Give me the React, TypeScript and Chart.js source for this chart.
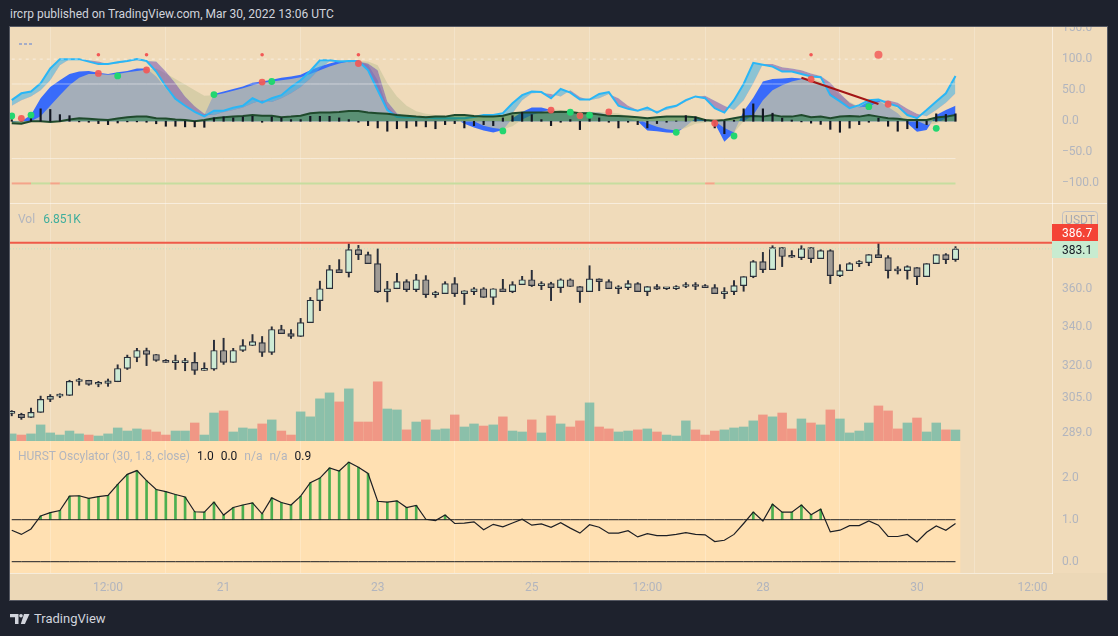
import React, { useEffect, useRef } from "react";
import { Chart, registerables } from "chart.js";

Chart.register(...registerables);

// ---------- time axis ----------
const TIME_TICK_POS = [10, 22, 38, 54, 66, 78, 94, 106];
const TIME_TICK_LABELS = ["12:00", "21", "23", "25", "12:00", "28", "30", "12:00"];

// ---------- price (3h candles) ----------
const OPEN = [297.8, 297.4, 296.0, 298.3, 304.3, 305.8, 306.1, 312.7, 313.3, 311.4, 311.8, 312.6, 319.0, 324.4, 327.9, 325.9, 323.0, 321.9, 321.9, 322.0, 318.1, 318.7, 327.9, 322.0, 327.9, 330.4, 331.9, 326.9, 338.6, 336.5, 335.0, 342.2, 353.9, 360.4, 371.1, 369.4, 382.6, 379.7, 374.5, 358.8, 360.4, 364.3, 359.9, 365.4, 357.2, 357.7, 363.2, 357.7, 358.8, 360.4, 355.6, 360.4, 358.8, 362.7, 365.4, 362.1, 363.2, 361.0, 365.4, 361.6, 358.8, 365.9, 364.3, 360.4, 361.0, 363.2, 358.8, 361.6, 360.4, 360.4, 361.6, 362.7, 361.6, 361.0, 357.7, 358.8, 362.1, 367.1, 375.7, 371.1, 383.8, 378.6, 378.0, 383.8, 377.4, 382.0, 367.7, 370.5, 374.5, 375.1, 379.7, 378.0, 370.6, 370.5, 372.2, 367.1, 374.5, 379.7, 376.8];
const HIGH = [299.1, 297.9, 300.2, 305.8, 306.5, 306.9, 313.3, 314.2, 313.3, 312.8, 313.9, 320.8, 325.6, 329.0, 329.1, 325.9, 323.4, 325.6, 324.0, 326.9, 321.8, 333.1, 334.1, 329.0, 333.4, 336.0, 335.0, 340.0, 340.8, 338.6, 344.4, 355.6, 364.6, 373.5, 376.8, 386.1, 385.1, 381.2, 383.0, 364.5, 369.0, 365.4, 368.4, 367.7, 359.0, 364.3, 366.6, 359.3, 361.0, 361.0, 360.4, 365.6, 364.3, 367.3, 370.7, 364.3, 364.0, 365.9, 365.9, 361.6, 373.3, 365.9, 365.4, 362.1, 364.9, 363.8, 361.6, 362.7, 360.8, 362.1, 363.8, 363.8, 362.7, 362.7, 361.0, 364.9, 367.1, 376.3, 381.0, 384.9, 383.8, 382.0, 384.9, 383.8, 382.6, 382.6, 373.9, 375.1, 376.3, 379.7, 386.3, 379.1, 372.8, 373.3, 372.2, 374.5, 379.7, 380.3, 384.4];
const LOW = [296.7, 295.1, 296.0, 298.3, 303.2, 305.1, 306.1, 310.9, 310.9, 310.2, 310.4, 312.6, 318.5, 322.3, 320.4, 322.5, 322.0, 318.5, 317.9, 316.1, 318.1, 318.1, 321.0, 322.0, 327.4, 330.4, 324.9, 325.9, 336.5, 334.0, 335.0, 342.2, 348.5, 360.4, 369.4, 366.9, 376.8, 374.5, 358.3, 353.2, 360.4, 358.8, 358.8, 355.6, 355.6, 357.7, 356.1, 351.8, 357.2, 355.6, 351.8, 358.8, 358.2, 362.7, 361.6, 359.9, 353.9, 358.3, 361.6, 352.9, 358.8, 359.3, 360.4, 357.7, 359.9, 358.8, 356.6, 359.9, 359.9, 359.9, 361.0, 359.9, 361.0, 357.7, 355.0, 357.2, 359.0, 366.5, 369.4, 371.1, 372.8, 378.0, 376.8, 375.1, 377.4, 363.2, 367.1, 370.5, 372.8, 373.3, 378.0, 366.3, 368.6, 365.7, 362.7, 367.1, 374.5, 374.5, 375.8];
const CLOSE = [298.0, 295.9, 298.3, 304.3, 305.7, 306.2, 312.8, 312.9, 311.3, 311.9, 313.0, 319.0, 324.6, 327.9, 325.9, 323.0, 322.0, 322.1, 322.1, 318.1, 319.0, 327.9, 322.0, 327.9, 330.4, 332.4, 326.9, 338.6, 336.5, 335.0, 342.2, 354.1, 360.4, 371.1, 369.4, 382.6, 379.7, 374.5, 358.8, 360.4, 364.3, 359.9, 365.4, 357.2, 357.4, 363.2, 357.7, 359.3, 360.4, 355.6, 360.4, 358.8, 362.7, 365.4, 362.1, 363.2, 361.0, 365.4, 361.6, 358.8, 365.9, 364.3, 360.4, 360.6, 363.2, 358.8, 361.6, 360.2, 360.8, 361.6, 362.7, 361.6, 361.0, 357.7, 358.8, 362.1, 367.1, 375.7, 371.1, 383.8, 378.6, 378.2, 383.2, 377.4, 382.0, 367.7, 370.5, 374.5, 375.0, 379.7, 378.0, 370.5, 370.4, 372.8, 367.1, 374.5, 379.7, 376.8, 383.1];
// volume in thousands
const VOLUME = [4.4, 3.7, 4.4, 10.0, 5.0, 3.7, 6.2, 4.4, 3.7, 3.1, 4.4, 8.1, 6.2, 7.5, 6.9, 5.6, 3.7, 6.2, 6.2, 11.2, 3.7, 17.4, 18.7, 5.6, 8.1, 7.5, 10.6, 13.1, 6.2, 3.7, 18.1, 15.0, 26.2, 29.9, 24.3, 32.4, 11.8, 11.8, 36.8, 19.9, 19.3, 6.9, 11.8, 13.1, 6.9, 7.5, 16.2, 8.7, 10.6, 9.3, 10.0, 15.0, 6.2, 5.6, 13.1, 5.0, 15.6, 10.6, 8.7, 12.5, 23.7, 8.7, 7.5, 5.6, 6.2, 6.9, 7.5, 5.6, 3.7, 3.1, 12.5, 6.9, 3.7, 6.2, 6.9, 8.1, 8.7, 12.5, 16.2, 15.0, 17.4, 7.5, 13.7, 11.2, 10.0, 19.3, 13.7, 5.0, 6.2, 11.2, 21.8, 18.7, 7.5, 11.2, 14.3, 5.6, 11.2, 6.9, 6.851];
const PRICE_TICKS = [289, 305, 320, 340, 360, 380, 400];
const RESIST_LEVEL = 386.7;
const LAST_PRICE = 383.1;
const VOL_LABEL = "6.851K";

// ---------- top oscillator ----------
const OSC_FAST = [34, 45, 48, 61, 85, 100, 100, 100, 96, 92, 92, 95, 97, 100, 97, 80, 56, 36, 25, 15, 8, 17, 17, 22, 25, 37, 30, 37, 42, 55, 66, 81, 98, 98, 96, 97, 97, 82, 50, 18, 7, 6, 7, 6, 5, 5, 5, 5, 7, 10, 10, 13, 29, 42, 48, 47, 37, 52, 46, 35, 35, 44, 47, 25, 20, 17, 22, 14, 22, 25, 34, 40, 37, 21, 14, 34, 60, 94, 91, 88, 80, 80, 76, 72, 71, 42, 32, 21, 26, 34, 35, 29, 24, 10, 5, 18, 32, 45, 73];
const OSC_FAST_SIGNAL = [25, 34, 40, 50, 66, 90, 100, 100, 98, 96, 92, 93, 96, 98, 97, 96, 80, 61, 40, 24, 12, 10, 15, 18, 22, 29, 34, 31, 37, 45, 55, 69, 85, 96, 98, 95, 96, 93, 82, 32, 13, 7, 6, 7, 6, 6, 5, 5, 6, 8, 10, 10, 13, 34, 45, 46, 44, 40, 50, 39, 34, 37, 44, 37, 25, 18, 17, 17, 18, 23, 32, 39, 41, 33, 25, 18, 34, 61, 92, 92, 87, 85, 82, 77, 73, 62, 45, 30, 22, 25, 32, 34, 30, 20, 12, 8, 18, 30, 45];
const OSC_SLOW = [-1, 0, 10, 37, 55, 66, 76, 80, 81, 78, 76, 79, 81, 85, 85, 72, 53, 34, 25, 15, 10, 44, 48, 52, 56, 62, 64, 67, 70, 72, 75, 82, 88, 93, 97, 97, 96, 91, 66, 23, 8, 6, 7, 5, 5, 6, 5, -4, -10, -15, -18, -14, 5, 15, 22, 22, 18, 15, 15, 15, 15, 14, 10, 8, 5, 0, -15, -16, -18, -19, -8, 5, 2, -3, -33, -18, 16, 38, 64, 68, 69, 70, 69, 66, 61, 45, 34, 23, 23, 32, 34, 23, 13, -3, -17, -14, 10, 18, 25];
const OSC_SLOW_SIGNAL = [0, 0, 0, 8, 25, 42, 58, 70, 76, 76, 75, 76, 79, 81, 83, 85, 77, 68, 59, 50, 41, 42, 45, 49, 53, 58, 62, 64, 66, 68, 71, 76, 82, 88, 93, 96, 97, 96, 90, 61, 40, 25, 16, 12, 10, 8, 7, 5, 0, -7, -11, -13, -8, 3, 10, 15, 19, 18, 16, 15, 15, 15, 14, 13, 8, 3, -3, -9, -13, -15, -11, -4, -2, 0, -11, -18, 0, 10, 34, 50, 58, 64, 67.6, 69, 64, 55.7, 42, 31.6, 23.5, 23.5, 31.6, 31.6, 21, 10, 1, -6, -3.5, 5, 10];
const MONEY_FLOW = [-3, -4, 0, 0, -1, 0, 3, 5, 4, 3, 2, 4.5, 6.5, 7.5, 7.5, 5, 4.5, 3, 2, 0, 2, 5, 6.5, 7.5, 8.5, 10, 9, 9, 6.5, 7.5, 9, 13, 14, 14, 15, 16.6, 16.6, 14, 13, 12, 10, 9, 7.5, 6.5, 7.5, 7.5, 10, 10, 8.5, 7.5, 7.5, 9, 13, 14, 14, 14, 14.5, 15.5, 15, 13, 13, 11, 9, 8.5, 7.5, 6.5, 5, 6.5, 7.5, 7.5, 7.5, 6.5, 2, 1, 2, 5, 7.5, 8.5, 7.5, 10, 7.5, 7.5, 10, 6.5, 7.5, 5, 7.5, 8.5, 7.5, 10, 7.5, 5, 4, 2, 2, 2, 6, 7.5, 10];
const OSC_HIST = [2.7, 0, 5.4, 20, 19, 10.7, 9, -1, -1.6, -3.7, -5.4, -2.7, -1, -1, -1.6, -4, -8, -8, -9, -9, -9.7, 5.4, 7, 5.4, 7, 8, -1.6, 7, 5.4, 2.7, 2.7, 8, 8, 8, 5.4, 2.7, -1.6, -7, -10.7, -16, -12, -10.7, -8, -9, -12, -5.4, -3.7, -10.7, -7, -5.4, -7, 5.4, 9, 14.5, 10.7, 2.7, -7, -1.6, 2.7, -13.4, 5.4, 5.4, -1.6, -10.7, -1.6, -5.4, -10.7, -3.7, -1.6, 0.5, 9, 7, 2.7, -10.7, -20, 1.6, 20, 28, 20, 13, 5, 2, -1, -3, -5, -13, -17.7, -11, -5.4, -1.6, 5, -8, -16, -12, -10.7, -5.4, 12, 11, 12];
const OSC_TICKS = [150, 100, 50, 0, -50, -100];
const OSC_DOTTED_LEVEL = 100;
const OSC_SOFT_LEVELS = [60, -60];
const OSC_FLOOR_LEVEL = -100;
const LEVEL_ALERT_SEGMENTS = [0, 1, 4, 72];
const GREEN_DOT_IDX = [0, 2, 11, 21, 27, 51, 58, 59, 60, 69, 75, 89, 96];
const GREEN_DOT_VAL = [8.5, 10, 73, 43, 64, -15.6, 14.5, 9, 9.7, -17.7, -23.7, 23.5, -11.3];
const RED_DOT_IDX = [1, 9, 14, 26, 36, 56, 59, 62, 73, 83, 91];
const RED_DOT_VAL = [4.8, 77, 82.5, 63, 93, 18, 9, 15, -3.2, 67.6, 27.4];
const SMALL_RED_IDX = [9, 14, 26, 36, 83];
const SMALL_RED_VAL = [107, 107, 107, 107, 107];
const BIG_RED_IDX = [90];
const BIG_RED_VAL = [107];
const DIVERGENCE_IDX = [82, 90];
const DIVERGENCE_VAL = [70, 27.8];

// ---------- Hurst oscillator ----------
const HURST = [0.75, 0.65, 0.78, 1.09, 1.17, 1.22, 1.56, 1.57, 1.51, 1.55, 1.58, 1.84, 2.08, 2.17, 1.93, 1.72, 1.67, 1.60, 1.54, 1.19, 1.18, 1.42, 1.11, 1.29, 1.35, 1.40, 1.14, 1.52, 1.41, 1.35, 1.56, 1.88, 1.99, 2.23, 2.16, 2.37, 2.25, 2.10, 1.44, 1.42, 1.45, 1.29, 1.34, 1.01, 0.98, 1.11, 0.91, 0.92, 0.95, 0.76, 0.89, 0.83, 0.92, 1.01, 0.87, 0.90, 0.82, 0.93, 0.80, 0.68, 0.88, 0.82, 0.68, 0.68, 0.74, 0.59, 0.67, 0.62, 0.62, 0.65, 0.69, 0.65, 0.64, 0.48, 0.51, 0.65, 0.91, 1.18, 0.97, 1.37, 1.18, 1.18, 1.35, 1.12, 1.25, 0.71, 0.75, 0.86, 0.86, 0.97, 0.87, 0.60, 0.60, 0.65, 0.47, 0.70, 0.85, 0.75, 0.91];
const HURST_TICKS = [0, 1, 2];
const HURST_LEVELS = [1, 0];

// ---------- look ----------
const FONT = "Roboto, 'DejaVu Sans', sans-serif";
const AXIS_TEXT = "#b2b5be";
const PANE_BG = "#f0dbba";
const HURST_BG = "#ffe0b2";
const TIME_AXIS_BG = "#ecd8b7";
const GRID = "rgba(255,255,255,0.22)";
const SEP = "rgba(255,255,255,0.5)";
const CANDLE_EDGE = "#2a2e39";
const UP_FILL = "#cdebd5";
const DOWN_FILL = "#a09b95";
const X_MIN = -0.18;
const X_MAX = 108.02;
const AXIS_W = 55;
const PANE_W = 1097;
const TOP_H = 176;
const MAIN_H = 238;
const HURST_H = 159;
const TIME_H = 27;

Chart.defaults.font.family = FONT;

const pts = (arr: number[]) => arr.map((v, i) => ({ x: i, y: v }));
const pick = (idx: number[], val: number[]) => idx.map((x, k) => ({ x, y: val[k] }));
const flat = (level: number, n: number) => Array.from({ length: n }, (_, i) => ({ x: i, y: level }));
const fmtSigned = (v: number) => (v < 0 ? "\u2212" + Math.abs(v).toFixed(1) : v.toFixed(1));

function zeroPad(s: any) {
  s.paddingTop = 0;
  s.paddingBottom = 0;
  s.paddingLeft = 0;
  s.paddingRight = 0;
}

function timeScale(showLabels: boolean): any {
  return {
    type: "linear",
    min: X_MIN,
    max: X_MAX,
    offset: false,
    afterBuildTicks: (s: any) => {
      s.ticks = TIME_TICK_POS.map((v) => ({ value: v }));
    },
    afterFit: (s: any) => {
      s.height = showLabels ? TIME_H : 0;
      zeroPad(s);
    },
    grid: { color: GRID, drawTicks: false },
    border: { display: showLabels, color: SEP },
    ticks: {
      display: showLabels,
      autoSkip: false,
      maxRotation: 0,
      padding: 8,
      color: AXIS_TEXT,
      font: { size: 12, family: FONT },
      callback: (v: number) => {
        const k = TIME_TICK_POS.indexOf(v);
        return k >= 0 ? TIME_TICK_LABELS[k] : "";
      },
    },
  };
}

function rightScale(extra: any, tickVals: number[], fmt: (v: number) => string): any {
  return {
    position: "right",
    afterFit: (s: any) => {
      s.width = AXIS_W;
      zeroPad(s);
    },
    afterBuildTicks: (s: any) => {
      s.ticks = tickVals.map((v) => ({ value: v }));
    },
    grid: { display: false, drawTicks: false },
    border: { display: true, color: SEP },
    ticks: {
      padding: 10,
      autoSkip: false,
      color: AXIS_TEXT,
      font: { size: 12, family: FONT },
      callback: (v: number) => fmt(v),
    },
    ...extra,
  };
}

const bgPlugin = {
  id: "paneBg",
  beforeDraw(chart: any, _a: any, opts: any) {
    const { ctx, width, height, chartArea } = chart;
    ctx.save();
    ctx.fillStyle = PANE_BG;
    ctx.fillRect(0, 0, width, height);
    if (opts && opts.hurst) {
      ctx.fillStyle = TIME_AXIS_BG;
      ctx.fillRect(0, chartArea.bottom, width, height - chartArea.bottom);
      const right = chart.scales.x.getPixelForValue(HURST.length - 0.5);
      ctx.fillStyle = HURST_BG;
      ctx.fillRect(chartArea.left, chartArea.top, right - chartArea.left, chartArea.bottom - chartArea.top);
    }
    ctx.restore();
  },
};

const priceLabelPlugin = {
  id: "priceLabels",
  afterDraw(chart: any) {
    const { ctx, chartArea, scales } = chart;
    const left = chartArea.right;
    const w = 46;
    const h = 17;
    const gTop = Math.round(scales.y.getPixelForValue(LAST_PRICE) - h / 2) + 1;
    const rTop = gTop - h;
    const uTop = rTop - 13;
    ctx.save();
    ctx.font = "12px " + FONT;
    ctx.textBaseline = "middle";
    ctx.fillStyle = PANE_BG;
    ctx.strokeStyle = "rgba(185,187,196,0.9)";
    ctx.lineWidth = 1;
    ctx.beginPath();
    ctx.roundRect(left + 10.5, uTop + 0.5, 35, 17, 3);
    ctx.fill();
    ctx.stroke();
    ctx.fillStyle = "#a6a9b2";
    ctx.textAlign = "center";
    ctx.fillText("USDT", left + 28, uTop + 9.5);
    ctx.textAlign = "left";
    ctx.fillStyle = "#f44336";
    ctx.fillRect(left, rTop, w, h);
    ctx.fillStyle = "#ffffff";
    ctx.fillText(RESIST_LEVEL.toFixed(1), left + 10, rTop + h / 2 + 1);
    ctx.fillStyle = "#c8ebd0";
    ctx.fillRect(left, gTop, w, h);
    ctx.fillStyle = "#131722";
    ctx.fillText(LAST_PRICE.toFixed(1), left + 10, gTop + h / 2 + 1);
    ctx.restore();
  },
};

const BASE: any = {
  responsive: false,
  animation: false,
  events: [],
  layout: { padding: 0, autoPadding: false },
};

function topConfig(): any {
  const n = OSC_FAST.length;
  const line = (extra: any) => ({ type: "line", pointRadius: 0, tension: 0, borderWidth: 0, fill: false, ...extra });
  const dots = (data: any[], color: string, r: number, order: number) => ({
    type: "line",
    data,
    showLine: false,
    pointRadius: r,
    pointBackgroundColor: color,
    pointBorderWidth: 0,
    order,
  });
  return {
    type: "line",
    data: {
      datasets: [
        line({ data: pts(OSC_SLOW), fill: "origin", backgroundColor: "rgba(41,98,255,0.92)", order: 20 }),
        line({ data: pts(OSC_SLOW_SIGNAL), fill: "origin", backgroundColor: "rgba(205,199,160,0.72)", order: 19 }),
        line({ data: pts(OSC_FAST_SIGNAL), order: 18 }),
        line({
          data: pts(OSC_FAST),
          fill: { target: 2, above: "rgba(58,175,232,0.55)", below: "rgba(110,70,175,0.5)" },
          borderColor: "#29b6f6",
          borderWidth: 2,
          order: 17,
        }),
        line({ data: pts(MONEY_FLOW), fill: "origin", backgroundColor: "rgba(30,120,60,0.55)", borderColor: "#1f4a2c", borderWidth: 2, order: 16 }),
        {
          type: "bar",
          data: OSC_HIST.map((v, i) => ({ x: i, y: [0, v] })),
          backgroundColor: "#131722",
          barThickness: 1.5,
          grouped: false,
          order: 15,
        },
        line({ data: flat(OSC_DOTTED_LEVEL, n), borderColor: "rgba(255,255,255,0.55)", borderWidth: 1, borderDash: [3, 4], order: 14 }),
        ...OSC_SOFT_LEVELS.map((l) => line({ data: flat(l, n), borderColor: "rgba(255,255,255,0.45)", borderWidth: 1, order: 14 })),
        line({
          data: flat(OSC_FLOOR_LEVEL, n),
          borderColor: "#c6dd9f",
          borderWidth: 2,
          segment: {
            borderColor: (c: any) => (LEVEL_ALERT_SEGMENTS.includes(c.p0DataIndex) ? "#f4a48a" : "#c6dd9f"),
          },
          order: 14,
        }),
        line({ data: pick(DIVERGENCE_IDX, DIVERGENCE_VAL), borderColor: "#a31515", borderWidth: 2, order: 5 }),
        dots(pick(GREEN_DOT_IDX, GREEN_DOT_VAL), "#22d670", 3.4, 4),
        dots(pick(RED_DOT_IDX, RED_DOT_VAL), "rgba(242,88,86,0.92)", 3.4, 3),
        dots(pick(SMALL_RED_IDX, SMALL_RED_VAL), "#f25856", 1.8, 2),
        dots(pick(BIG_RED_IDX, BIG_RED_VAL), "rgba(242,100,96,0.9)", 4, 2),
      ],
    },
    options: {
      ...BASE,
      plugins: { legend: { display: false }, tooltip: { enabled: false }, paneBg: {} },
      scales: {
        x: timeScale(false),
        y: rightScale({ type: "linear", min: -131.5, max: 151.7 }, OSC_TICKS, fmtSigned),
      },
    },
    plugins: [bgPlugin],
  };
}

function mainConfig(): any {
  const up = CLOSE.map((c, i) => c >= OPEN[i]);
  return {
    type: "bar",
    data: {
      datasets: [
        {
          type: "line",
          data: [
            { x: X_MIN, y: RESIST_LEVEL },
            { x: X_MAX, y: RESIST_LEVEL },
          ],
          borderColor: "#ef5a48",
          borderWidth: 2,
          pointRadius: 0,
          order: 0,
        },
        {
          type: "line",
          data: [
            { x: X_MIN, y: LAST_PRICE },
            { x: X_MAX, y: LAST_PRICE },
          ],
          borderColor: "rgba(185,228,196,0.95)",
          borderWidth: 1,
          borderDash: [1, 2],
          pointRadius: 0,
          order: 0.5,
        },
        {
          type: "bar",
          data: OPEN.map((o, i) => ({ x: i, y: [o, CLOSE[i]] })),
          backgroundColor: up.map((u) => (u ? UP_FILL : DOWN_FILL)),
          borderColor: CANDLE_EDGE,
          borderWidth: 1.2,
          borderSkipped: false,
          barThickness: 6.5,
          minBarLength: 2,
          grouped: false,
          order: 1,
        },
        {
          type: "bar",
          data: LOW.map((l, i) => ({ x: i, y: [l, HIGH[i]] })),
          backgroundColor: CANDLE_EDGE,
          barThickness: 1.3,
          grouped: false,
          order: 2,
        },
        {
          type: "bar",
          yAxisID: "yv",
          data: VOLUME.map((v, i) => ({ x: i, y: v })),
          backgroundColor: up.map((u) => (u ? "rgba(38,166,154,0.5)" : "rgba(239,83,80,0.5)")),
          barThickness: 8.8,
          grouped: false,
          order: 5,
        },
      ],
    },
    options: {
      ...BASE,
      plugins: { legend: { display: false }, tooltip: { enabled: false }, paneBg: {} },
      scales: {
        x: timeScale(false),
        y: rightScale({ type: "logarithmic", min: 285.5, max: 410.9 }, PRICE_TICKS, (v) => v.toFixed(1)),
        yv: { type: "linear", display: false, min: 0, max: 148 },
      },
    },
    plugins: [bgPlugin, priceLabelPlugin],
  };
}

function hurstConfig(): any {
  const n = HURST.length;
  return {
    type: "line",
    data: {
      datasets: [
        { type: "line", data: pts(HURST), borderColor: "#1d1f24", borderWidth: 1.2, pointRadius: 0, tension: 0, order: 1 },
        {
          type: "bar",
          data: HURST.map((v, i) => (v > HURST_LEVELS[0] ? { x: i, y: [HURST_LEVELS[0], v] } : null)).filter(Boolean),
          backgroundColor: "#4caf50",
          barThickness: 2,
          grouped: false,
          order: 3,
        },
        ...HURST_LEVELS.map((l) => ({
          type: "line",
          data: flat(l, n),
          borderColor: "#1d1f24",
          borderWidth: 1,
          pointRadius: 0,
          order: 2,
        })),
      ],
    },
    options: {
      ...BASE,
      plugins: { legend: { display: false }, tooltip: { enabled: false }, paneBg: { hurst: true } },
      scales: {
        x: timeScale(true),
        y: rightScale({ type: "linear", min: -0.269, max: 2.874 }, HURST_TICKS, (v) => v.toFixed(1)),
      },
    },
    plugins: [bgPlugin],
  };
}

export default function App() {
  const topRef = useRef<HTMLCanvasElement>(null);
  const mainRef = useRef<HTMLCanvasElement>(null);
  const hurstRef = useRef<HTMLCanvasElement>(null);

  useEffect(() => {
    const charts: any[] = [];
    if (topRef.current) charts.push(new Chart(topRef.current, topConfig()));
    if (mainRef.current) charts.push(new Chart(mainRef.current, mainConfig()));
    if (hurstRef.current) charts.push(new Chart(hurstRef.current, hurstConfig()));
    return () => charts.forEach((c) => c.destroy());
  }, []);

  const cv = (top: number, h: number): React.CSSProperties => ({
    position: "absolute",
    left: 0,
    top,
    width: PANE_W,
    height: h,
    display: "block",
  });
  const grey = "#b2b5be";
  const dark = "#131722";

  return (
    <div
      style={{
        position: "fixed",
        left: 0,
        top: 0,
        width: 1118,
        height: 636,
        background: "#1e222d",
        overflow: "hidden",
        fontFamily: FONT,
      }}
    >
      <div style={{ position: "absolute", left: 10, top: 6, fontSize: 12, lineHeight: "16px", color: "#d1d4dc", whiteSpace: "nowrap" }}>
        ircrp published on TradingView.com, Mar 30, 2022 13:06 UTC
      </div>
      <div
        style={{
          position: "absolute",
          left: 9,
          top: 26,
          width: PANE_W,
          height: TOP_H + MAIN_H + HURST_H,
          border: "1px solid #555862",
          background: PANE_BG,
        }}
      >
        <canvas ref={topRef} width={PANE_W} height={TOP_H} style={cv(0, TOP_H)} />
        <canvas ref={mainRef} width={PANE_W} height={MAIN_H} style={cv(TOP_H, MAIN_H)} />
        <canvas ref={hurstRef} width={PANE_W} height={HURST_H} style={cv(TOP_H + MAIN_H, HURST_H)} />
        <div style={{ position: "absolute", left: 0, top: TOP_H, width: PANE_W, height: 1, background: SEP }} />
        <div style={{ position: "absolute", left: 9, top: 16, display: "flex", gap: 2 }}>
          {[0, 1, 2].map((k) => (
            <div key={k} style={{ width: 3, height: 2, background: "#a4acc8" }} />
          ))}
        </div>
        <div style={{ position: "absolute", left: 8, top: TOP_H + 8, fontSize: 12, lineHeight: "16px", whiteSpace: "nowrap" }}>
          <span style={{ color: grey }}>Vol</span>
          <span style={{ color: "#3fae9c", marginLeft: 8 }}>{VOL_LABEL}</span>
        </div>
        <div style={{ position: "absolute", left: 8, top: TOP_H + MAIN_H + 7, fontSize: 12, lineHeight: "16px", whiteSpace: "nowrap" }}>
          <span style={{ color: grey }}>HURST Oscylator (30, 1.8, close)</span>
          <span style={{ color: dark, marginLeft: 7 }}>1.0</span>
          <span style={{ color: dark, marginLeft: 7 }}>0.0</span>
          <span style={{ color: grey, marginLeft: 7 }}>n/a</span>
          <span style={{ color: grey, marginLeft: 7 }}>n/a</span>
          <span style={{ color: dark, marginLeft: 7 }}>0.9</span>
        </div>
      </div>
      <div style={{ position: "absolute", left: 10, top: 611, display: "flex", alignItems: "center", gap: 4 }}>
        <svg width="20" height="10" viewBox="0 0 20 10">
          <path d="M0 0h8.5v10H5V3.2H0z" fill="#d1d4dc" />
          <circle cx="11" cy="1.8" r="1.8" fill="#d1d4dc" />
          <path d="M14 0h5.5l-4.6 10H10.8z" fill="#d1d4dc" />
        </svg>
        <span style={{ color: "#d1d4dc", fontSize: 13, lineHeight: "16px" }}>TradingView</span>
      </div>
    </div>
  );
}
